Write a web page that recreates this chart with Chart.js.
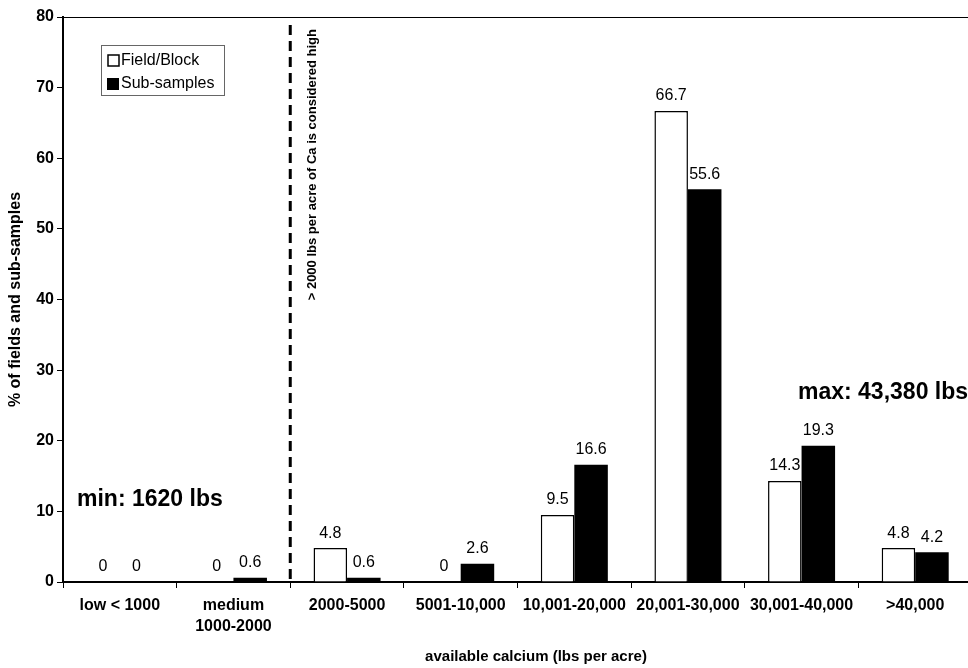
<!DOCTYPE html>
<html lang="en">
<head>
<meta charset="UTF-8">
<title>Available calcium</title>
<script src="https://cdn.jsdelivr.net/npm/chart.js"></script>
<style>
    body { margin: 0; background: #fff; overflow: hidden; }
    #wrap { width: 968px; height: 668px; overflow: hidden; }
</style>
</head>
<body>
<div id="wrap">
    <canvas id="caChart" width="972" height="668"></canvas>
</div>
<script>
    // data
    const categories = [['low < 1000'], ['medium', '1000-2000'], ['2000-5000'], ['5001-10,000'],
        ['10,001-20,000'], ['20,001-30,000'], ['30,001-40,000'], ['>40,000']];
    const fieldBlock = [0, 0, 4.8, 0, 9.5, 66.7, 14.3, 4.8];
    const subSamples = [0, 0.6, 0.6, 2.6, 16.6, 55.6, 19.3, 4.2];
    const seriesNames = ['Field/Block', 'Sub-samples'];
    const yTicks = [0, 10, 20, 30, 40, 50, 60, 70, 80];

    const FONT = 'Arial, "Liberation Sans", sans-serif';

    // labels over bars, dashed line, notes, legend box, top frame line
    const extras = {
        id: 'extras',
        afterDatasetsDraw(chart) {
            const ctx = chart.ctx;
            const area = chart.chartArea;
            const x = chart.scales.x;
            ctx.save();

            // top frame
            ctx.strokeStyle = '#000';
            ctx.lineWidth = 1;
            ctx.beginPath();
            ctx.moveTo(area.left, area.top + 0.5);
            ctx.lineTo(area.right + 10, area.top + 0.5);
            ctx.stroke();

            // value labels
            ctx.fillStyle = '#000';
            ctx.font = '16px ' + FONT;
            ctx.textAlign = 'center';
            ctx.textBaseline = 'bottom';
            chart.data.datasets.forEach((ds, i) => {
                chart.getDatasetMeta(i).data.forEach((bar, j) => {
                    ctx.fillText(String(ds.data[j]), bar.x, bar.y - 7);
                });
            });

            // x axis title (the original plot runs past the right edge, so it sits right of centre)
            ctx.font = 'bold 15px ' + FONT;
            ctx.textBaseline = 'middle';
            ctx.fillText('available calcium (lbs per acre)', 536, 657);

            // dashed divider between medium and 2000-5000
            const dx = x.getPixelForValue(1.5);
            ctx.setLineDash([10, 6]);
            ctx.lineWidth = 3;
            ctx.beginPath();
            ctx.moveTo(dx, area.top + 8);
            ctx.lineTo(dx, area.bottom);
            ctx.stroke();
            ctx.setLineDash([]);

            // rotated note
            ctx.save();
            ctx.translate(dx + 22, area.top + 12);
            ctx.rotate(-Math.PI / 2);
            ctx.font = 'bold 13px ' + FONT;
            ctx.textAlign = 'right';
            ctx.textBaseline = 'middle';
            ctx.fillText('> 2000 lbs per acre of Ca is considered high', 0, 0);
            ctx.restore();

            // min / max notes
            ctx.font = 'bold 23px ' + FONT;
            ctx.textAlign = 'left';
            ctx.textBaseline = 'middle';
            ctx.fillText('min: 1620 lbs', 77, 500);
            ctx.fillText('max: 43,380 lbs', 798, 393);

            // legend box
            ctx.lineWidth = 1;
            ctx.strokeStyle = '#666';
            ctx.strokeRect(101.5, 45.5, 123, 50);
            ctx.strokeStyle = '#000';
            ctx.lineWidth = 1.5;
            ctx.fillStyle = '#fff';
            ctx.fillRect(108, 55, 11, 11);
            ctx.strokeRect(108, 55, 11, 11);
            ctx.fillStyle = '#000';
            ctx.fillRect(107, 78, 12, 12);
            ctx.font = '16px ' + FONT;
            ctx.fillText(seriesNames[0], 121, 61);
            ctx.fillText(seriesNames[1], 121, 84);

            ctx.restore();
        }
    };

    new Chart(document.getElementById('caChart'), {
        type: 'bar',
        data: {
            labels: categories,
            datasets: [{
                label: seriesNames[0],
                data: fieldBlock,
                backgroundColor: '#fff',
                borderColor: '#000',
                borderWidth: 1.5,
                borderSkipped: 'bottom'
            }, {
                label: seriesNames[1],
                data: subSamples,
                backgroundColor: '#000',
                borderColor: '#000',
                borderWidth: 0
            }]
        },
        options: {
            responsive: false,
            animation: false,
            layout: { padding: { top: 17, left: 0, right: 0, bottom: 0 } },
            datasets: { bar: { categoryPercentage: 0.59, barPercentage: 1.0 } },
            plugins: { legend: { display: false }, tooltip: { enabled: false } },
            scales: {
                x: {
                    grid: { drawOnChartArea: false, tickLength: 6, color: '#000', offset: true },
                    border: { color: '#000', width: 2 },
                    ticks: { color: '#000', font: { family: FONT, size: 16, weight: 'bold', lineHeight: 1.3 },
                        padding: 7, maxRotation: 0, autoSkip: false },
                    afterFit(scale) { scale.height = 86; }
                },
                y: {
                    min: 0, max: 80,
                    afterBuildTicks(scale) { scale.ticks = yTicks.map(v => ({ value: v })); },
                    grid: { drawOnChartArea: false, tickLength: 6, color: '#000' },
                    border: { color: '#000', width: 2 },
                    ticks: { color: '#000', font: { family: FONT, size: 16, weight: 'bold' }, padding: 3 },
                    title: { display: true, text: '% of fields and sub-samples', color: '#000',
                        font: { family: FONT, size: 16, weight: 'bold' }, padding: { top: 6, bottom: 0 } },
                    afterFit(scale) { scale.width = 63; }
                }
            }
        },
        plugins: [extras]
    });
</script>
</body>
</html>
